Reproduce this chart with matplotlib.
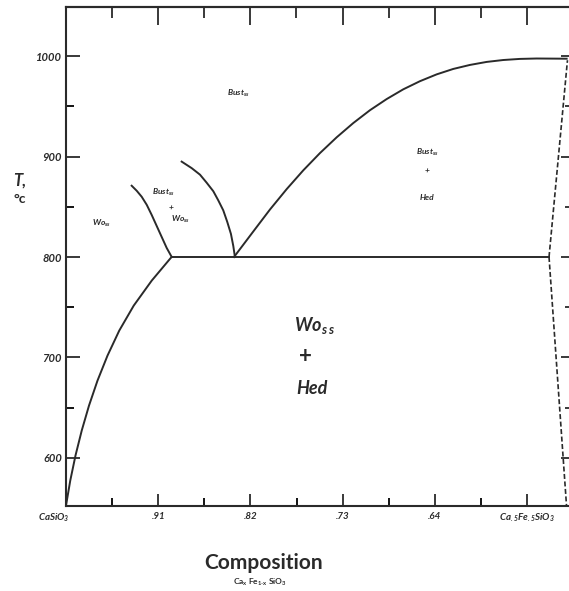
import matplotlib
matplotlib.use("Agg")
import matplotlib.pyplot as plt
import matplotlib.transforms as mtransforms
from matplotlib.ticker import FixedLocator, MultipleLocator, NullFormatter

plt.rcParams['font.family'] = ['Lato', 'DejaVu Sans']
plt.rcParams['mathtext.default'] = 'regular'

# ---- data (composition x in CaxFe1-xSiO3, temperature in deg C) ----
tick_vals = [1.0, 0.91, 0.82, 0.73, 0.64, 0.55]
tick_labels = ['CaSiO$_3$', '.91', '.82', '.73', '.64', 'Ca$_{.5}$Fe$_{.5}$SiO$_3$']
minor_vals = [0.955, 0.865, 0.775, 0.685, 0.595]
y_major = [600, 700, 800, 900, 1000]

# Wo_ss solvus (left)
solvus_x = [1.0, 0.99585, 0.99073, 0.98463, 0.97755, 0.96925, 0.95949, 0.94802,
            0.93388, 0.91631, 0.89698]
solvus_T = [552.4, 577.3, 602.3, 627.2, 652.0, 676.9, 701.8, 726.7, 751.6, 776.5, 800]

# Bust+Wo field, left boundary
bw_left_x = [0.8968, 0.9017, 0.9066, 0.9115, 0.9164, 0.9212, 0.9261, 0.9310, 0.9359]
bw_left_T = [800, 809, 820, 831, 842, 852, 860, 866, 871]

# Bust+Wo field, right boundary
bw_right_x = [0.8351, 0.8367, 0.8390, 0.8426, 0.8465, 0.8514, 0.8562, 0.8627,
              0.8692, 0.8773, 0.8871]
bw_right_T = [800, 811, 823, 835, 846.5, 856.5, 865.5, 874, 882, 888.5, 895]

# Bust+Hed dome
dome_x = [0.836, 0.8172, 0.8009, 0.7846, 0.7684, 0.7521, 0.7358, 0.7196, 0.7033,
          0.6870, 0.6708, 0.6545, 0.6382, 0.6220, 0.6057, 0.5894, 0.5732, 0.5569,
          0.5406, 0.5113]
dome_T = [800, 825.4, 847.3, 867.6, 886.3, 903.5, 919.2, 933.4, 946.2, 957.3,
          967.0, 975.1, 981.9, 987.3, 991.3, 994.3, 996.2, 997.3, 997.7, 997.5]

# eutectoid horizontal
eut_x = [0.89698, 0.5285]
eut_T = [800, 800]

# dashed boundaries (right)
dash_up_x = [0.5285, 0.5105]
dash_up_T = [800, 996]
dash_lo_x = [0.5285, 0.5114]
dash_lo_T = [800, 552]

W, H = 569, 591
fig = plt.figure(figsize=(W / 100, H / 100), dpi=100)
L, R, B, T = 66, 572, 506, 7
ax = fig.add_axes([L / W, (H - B) / H, (R - L) / W, (B - T) / H])

ax.set_xlim(1.0, 1.0 - (R - L) / 92.2 * 0.09)
ax.set_ylim(552, 1049)

lw = 1.4
col = '#2a2a2a'
for xs, ts in [(solvus_x, solvus_T), (bw_left_x, bw_left_T), (bw_right_x, bw_right_T),
               (dome_x, dome_T), (eut_x, eut_T)]:
    ax.plot(xs, ts, color=col, lw=lw, solid_joinstyle='round')
ax.plot(dash_up_x, dash_up_T, color=col, lw=1.2, dashes=(3, 1.5))
ax.plot(dash_lo_x, dash_lo_T, color=col, lw=1.2, dashes=(3, 1.5))

for s in ax.spines.values():
    s.set_linewidth(1.5)
    s.set_color(col)

ax.xaxis.set_major_locator(FixedLocator(tick_vals))
ax.set_xticklabels(tick_labels)
ax.xaxis.set_minor_locator(FixedLocator(minor_vals))
ax.yaxis.set_major_locator(FixedLocator(y_major))
ax.yaxis.set_minor_locator(MultipleLocator(50))

ax.tick_params(axis='x', which='major', direction='in', length=9, width=1.3,
               labelsize=7, pad=4, colors=col)
ax.tick_params(axis='x', which='minor', direction='in', length=6, width=1.3)
ax.tick_params(axis='y', which='major', direction='in', length=10, width=1.3,
               labelsize=8, pad=3, colors=col)
ax.tick_params(axis='y', which='minor', direction='in', length=6, width=1.3)
for lab in ax.get_xticklabels() + ax.get_yticklabels():
    lab.set_fontweight('bold')
    lab.set_fontstyle('italic')

# shift first x label left (as in the reference)
first = ax.get_xticklabels()[0]
first.set_transform(first.get_transform() +
                    mtransforms.ScaledTranslation(-12 / 100, 0, fig.dpi_scale_trans))

# top ticks
top = ax.secondary_xaxis('top')
top.xaxis.set_major_locator(FixedLocator(tick_vals))
top.xaxis.set_minor_locator(FixedLocator(minor_vals))
top.xaxis.set_major_formatter(NullFormatter())
top.tick_params(axis='x', which='major', direction='in', length=13, width=1.3, colors=col)
top.tick_params(axis='x', which='minor', direction='in', length=8, width=1.3, colors=col)
top.spines['top'].set_linewidth(1.5)

# right ticks
rt = ax.secondary_yaxis('right')
rt.yaxis.set_major_locator(FixedLocator(y_major))
rt.yaxis.set_minor_locator(MultipleLocator(50))
rt.yaxis.set_major_formatter(NullFormatter())
rt.tick_params(axis='y', which='major', direction='in', length=8, width=1.3, colors=col)
rt.tick_params(axis='y', which='minor', direction='in', length=5, width=1.3, colors=col)

# field labels
sm = dict(fontsize=6, fontweight='bold', fontstyle='italic', color=col,
          ha='center', va='center')
ax.text(0.965, 833, 'Wo$_{ss}$', **sm)
ax.text(0.905, 864, 'Bust$_{ss}$', **sm)
ax.text(0.8975, 849, '+', **sm)
ax.text(0.888, 837, 'Wo$_{ss}$', **sm)
ax.text(0.832, 963, 'Bust$_{ss}$', **sm)
ax.text(0.6476, 904, 'Bust$_{ss}$', **sm)
ax.text(0.6476, 885, '+', **sm)
ax.text(0.6476, 859, 'Hed', **sm)

bg = dict(fontsize=13, fontweight='bold', fontstyle='italic', color=col,
          ha='center', va='center')
ax.text(0.757, 732, 'Wo$_{s\\,s}$', **bg)
ax.text(0.766, 701, '+', fontsize=16, fontweight='bold', color=col, ha='center', va='center')
ax.text(0.760, 669, 'Hed', **bg)

# axis titles
fig.text(20 / W, 1 - 181 / H, 'T,', fontsize=12, fontweight='bold', fontstyle='italic',
         color=col, ha='center', va='center')
fig.text(20 / W, 1 - 199 / H, '°c', fontsize=10, fontweight='bold',
         color=col, ha='center', va='center')
fig.text(264 / W, 1 - 563 / H, 'Composition', fontsize=15, fontweight='bold',
         color=col, ha='center', va='center')
fig.text(260 / W, 1 - 582 / H, 'Ca$_x$ Fe$_{1\\text{-}x}$ SiO$_3$', fontsize=6,
         fontweight='bold', color=col, ha='center', va='center')

fig.savefig('out.png', dpi=100)
